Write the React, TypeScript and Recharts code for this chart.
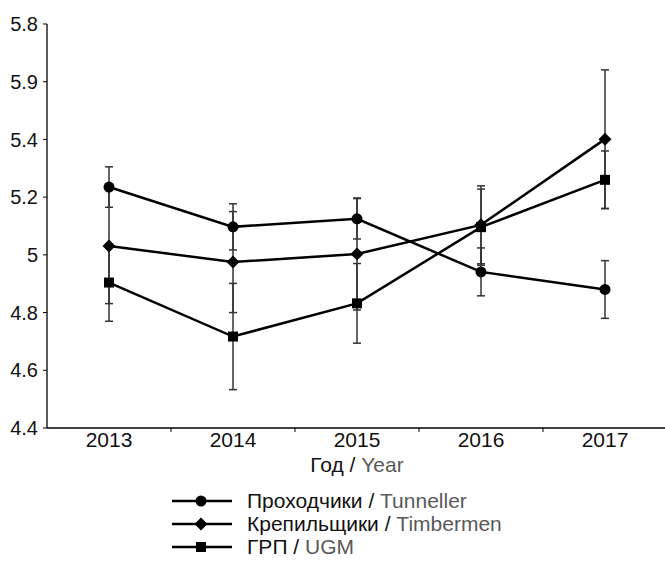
import React from "react";
import { LineChart, Line, XAxis, YAxis, ErrorBar, Label } from "recharts";

const years = ["2013", "2014", "2015", "2016", "2017"];
const tunneller = [5.235, 5.097, 5.125, 4.941, 4.88];
const tunnellerErr = [0.07, 0.08, 0.07, 0.083, 0.1];
const timbermen = [5.031, 4.975, 5.003, 5.104, 5.401];
const timbermenErr = [0.2, 0.175, 0.194, 0.135, 0.24];
const ugm = [4.904, 4.717, 4.832, 5.096, 5.26];
const ugmErr = [0.134, 0.184, 0.138, 0.132, 0.1];

const yTicks = [4.4, 4.6, 4.8, 5, 5.2, 5.4, 5.6, 5.8];
// labels as printed in the source figure (the 5.6 slot reads "5.9")
const yTickLabels = ["4.4", "4.6", "4.8", "5", "5.2", "5.4", "5.9", "5.8"];

const legendItems = [
  { ru: "Проходчики", en: "Tunneller", shape: "circle" },
  { ru: "Крепильщики", en: "Timbermen", shape: "diamond" },
  { ru: "ГРП", en: "UGM", shape: "square" },
];

const FONT = "'Liberation Sans', Arial, sans-serif";
const GREY = "#595959";
const FS = 21;

const data = years.map((year, i) => ({
  idx: i,
  year,
  tunneller: tunneller[i],
  tunnellerErr: tunnellerErr[i],
  timbermen: timbermen[i],
  timbermenErr: timbermenErr[i],
  ugm: ugm[i],
  ugmErr: ugmErr[i],
}));

function Marker({ cx, cy, shape }: { cx: number; cy: number; shape: string }) {
  if (cx == null || cy == null) return null;
  if (shape === "circle") return <circle cx={cx} cy={cy} r={5.5} fill="#000" />;
  if (shape === "diamond")
    return (
      <polygon
        points={`${cx},${cy - 6.5} ${cx + 6.5},${cy} ${cx},${cy + 6.5} ${cx - 6.5},${cy}`}
        fill="#000"
      />
    );
  return <rect x={cx - 5} y={cy - 5} width={10} height={10} fill="#000" />;
}

const XTick = (props: any) => {
  const { x, y, payload } = props;
  const i = payload.value as number;
  const band = 124;
  return (
    <g>
      <text x={x} y={y + 11} textAnchor="middle" fontSize={FS} fontFamily={FONT} fill="#111">
        {years[i]}
      </text>
      {i < years.length - 1 && (
        <line x1={x + band / 2} x2={x + band / 2} y1={y - 8} y2={y - 4} stroke="#000" />
      )}
    </g>
  );
};

function LegendIcon({ shape }: { shape: string }) {
  return (
    <svg width={60} height={16} style={{ display: "block" }}>
      <line x1={0} x2={60} y1={8} y2={8} stroke="#000" strokeWidth={2.5} />
      <Marker cx={29} cy={8} shape={shape} />
    </svg>
  );
}

export default function App() {
  return (
    <div
      style={{
        position: "absolute",
        left: 0,
        top: 0,
        width: 665,
        height: 563,
        overflow: "hidden",
        background: "#fff",
        fontFamily: FONT,
      }}
    >
      <LineChart
        width={665}
        height={563}
        data={data}
        margin={{ top: 24, right: -2, left: 0, bottom: 75 }}
      >
        <XAxis
          dataKey="idx"
          type="number"
          domain={[-0.5, 4.5]}
          ticks={[0, 1, 2, 3, 4]}
          tickLine={false}
          tick={<XTick />}
          axisLine={{ stroke: "#000", strokeWidth: 1.3 }}
          height={60}
          interval={0}
        >
          <Label
            content={(p: any) => {
              const vb = p.viewBox;
              return (
                <text
                  x={vb.x + vb.width / 2}
                  y={vb.y + 44}
                  textAnchor="middle"
                  fontSize={FS}
                  fontFamily={FONT}
                  fill="#111"
                >
                  Год / <tspan fill={GREY}>Year</tspan>
                </text>
              );
            }}
          />
        </XAxis>
        <YAxis
          type="number"
          domain={[4.4, 5.8]}
          ticks={yTicks}
          width={47}
          tickSize={4}
          tickMargin={5}
          interval={0}
          tickFormatter={(v: number) => yTickLabels[yTicks.indexOf(v)] ?? String(v)}
          tick={{ fontSize: 20, fontFamily: FONT, fill: "#111" }}
          tickLine={{ stroke: "#000" }}
          axisLine={{ stroke: "#000", strokeWidth: 1.3 }}
        />
        <Line
          dataKey="tunneller"
          stroke="#000"
          strokeWidth={2.5}
          isAnimationActive={false}
          dot={(p: any) => <Marker key={`c${p.index}`} cx={p.cx} cy={p.cy} shape="circle" />}
        >
          <ErrorBar dataKey="tunnellerErr" direction="y" width={4} stroke="#333" strokeWidth={1.5} />
        </Line>
        <Line
          dataKey="timbermen"
          stroke="#000"
          strokeWidth={2.5}
          isAnimationActive={false}
          dot={(p: any) => <Marker key={`d${p.index}`} cx={p.cx} cy={p.cy} shape="diamond" />}
        >
          <ErrorBar dataKey="timbermenErr" direction="y" width={4} stroke="#333" strokeWidth={1.5} />
        </Line>
        <Line
          dataKey="ugm"
          stroke="#000"
          strokeWidth={2.5}
          isAnimationActive={false}
          dot={(p: any) => <Marker key={`s${p.index}`} cx={p.cx} cy={p.cy} shape="square" />}
        >
          <ErrorBar dataKey="ugmErr" direction="y" width={4} stroke="#333" strokeWidth={1.5} />
        </Line>
      </LineChart>
      <div style={{ position: "absolute", left: 172, top: 489 }}>
        {legendItems.map((it) => (
          <div
            key={it.en}
            style={{
              display: "flex",
              alignItems: "center",
              height: 23.3,
              fontSize: FS,
              color: "#111",
              whiteSpace: "nowrap",
            }}
          >
            <LegendIcon shape={it.shape} />
            <span style={{ marginLeft: 15 }}>
              {it.ru} / <span style={{ color: GREY }}>{it.en}</span>
            </span>
          </div>
        ))}
      </div>
    </div>
  );
}
